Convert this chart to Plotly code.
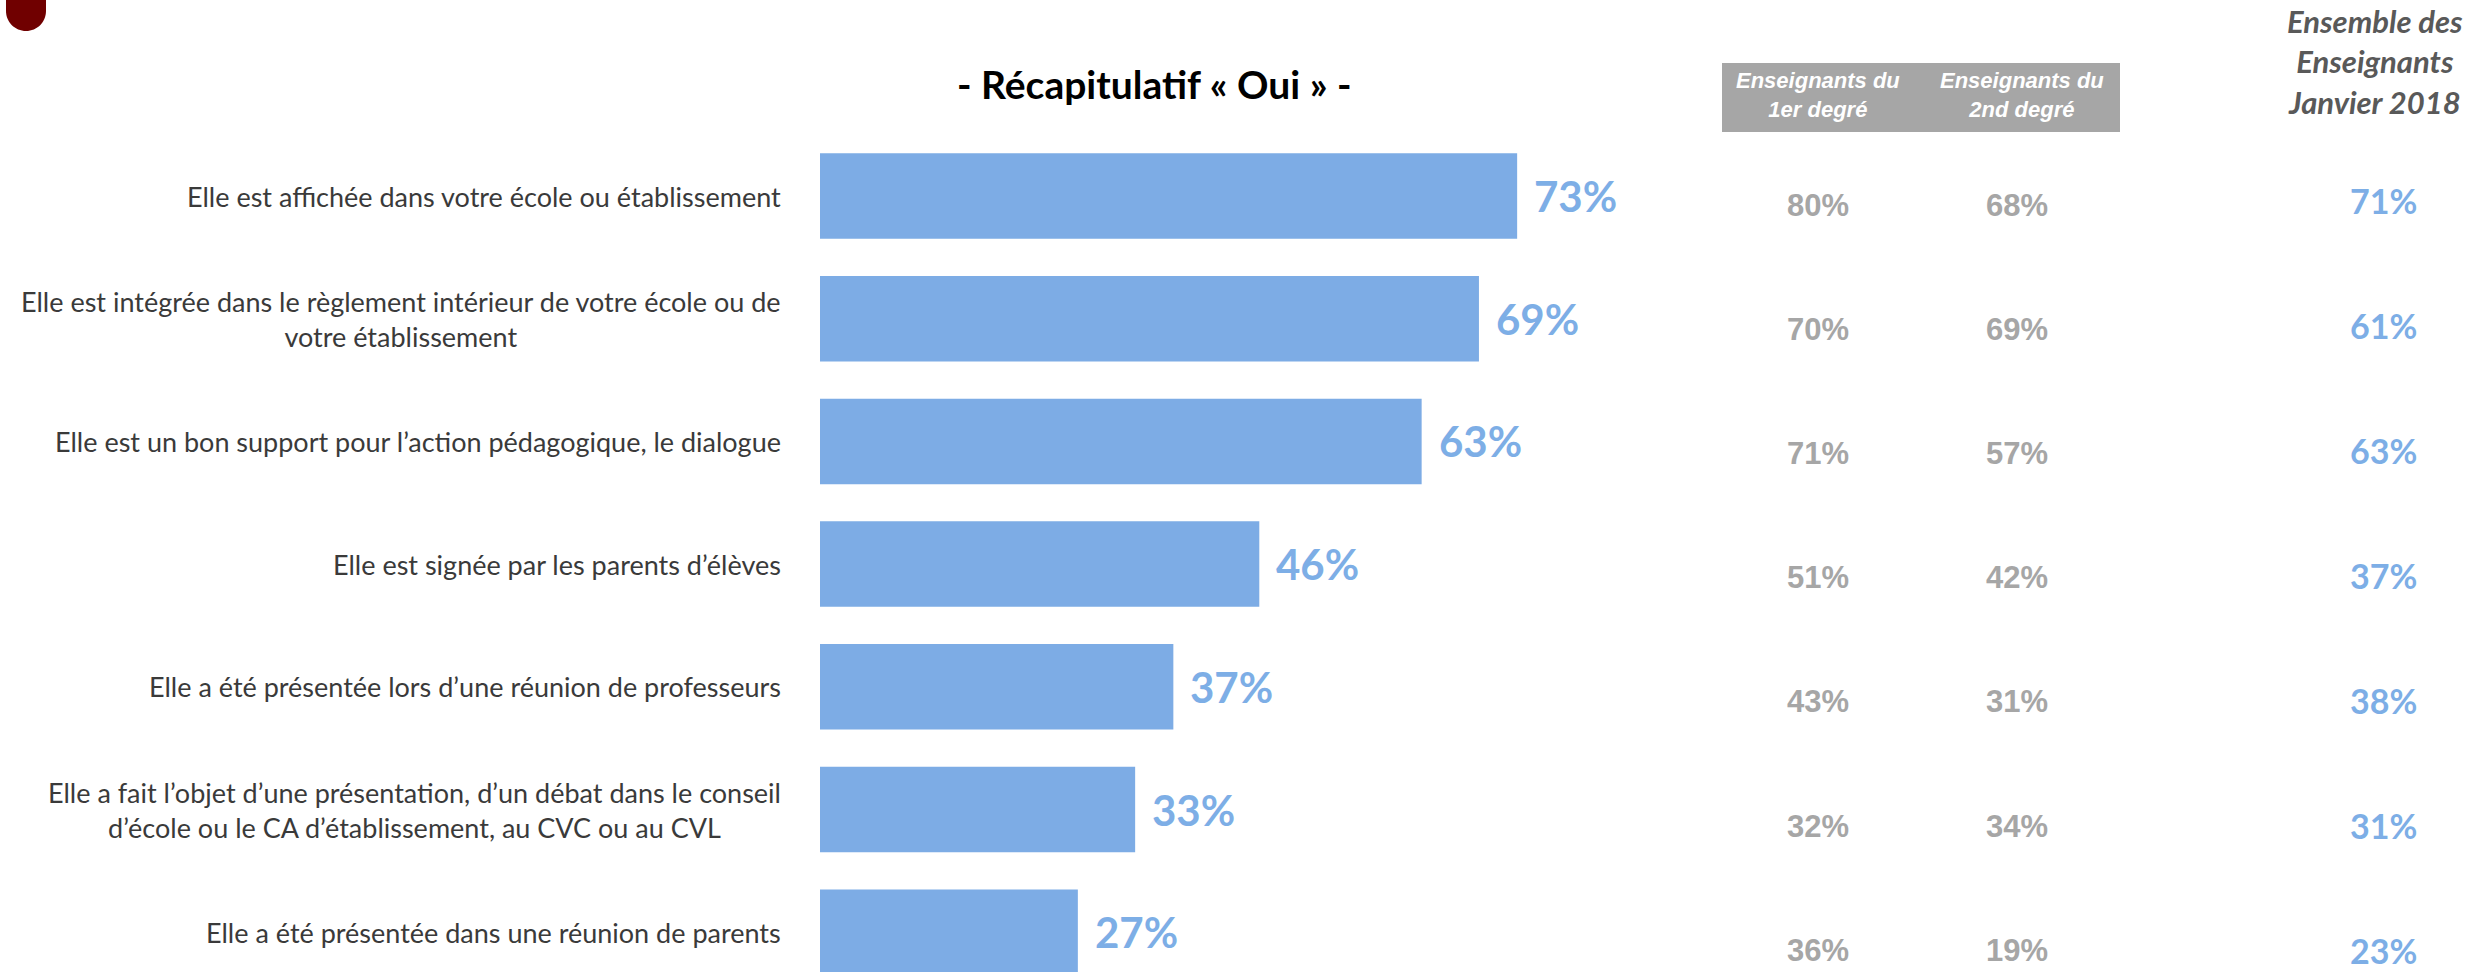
import plotly.graph_objects as go

# ---------------- data ----------------
categories = [
    "Elle est affichée dans votre école ou établissement",
    "Elle est intégrée dans le règlement intérieur de votre école ou de<br>votre établissement",
    "Elle est un bon support pour l’action pédagogique, le dialogue",
    "Elle est signée par les parents d’élèves",
    "Elle a été présentée lors d’une réunion de professeurs",
    "Elle a fait l’objet d’une présentation, d’un débat dans le conseil<br>d’école ou le CA d’établissement, au CVC ou au CVL",
    "Elle a été présentée dans une réunion de parents",
]
total_oui = [73, 69, 63, 46, 37, 33, 27]
premier_degre = [80, 70, 71, 51, 43, 32, 36]
second_degre = [68, 69, 57, 42, 31, 34, 19]
janvier_2018 = [71, 61, 63, 37, 38, 31, 23]

col_headers = ["Enseignants du<br>1er degré", "Enseignants du<br>2nd degré"]
ensemble_header = "Ensemble des<br>Enseignants<br>Janvier 2018"
chart_title = "- Récapitulatif « Oui » -"

# ---------------- layout constants ----------------
W, H = 2469, 972
BAR_COLOR = "#7DACE5"
BLUE_TXT = "#7DAEE6"
GRAY_TXT = "#A6A6A6"
LABEL_TXT = "#3A3A3A"


def px(x):
    return x / W


def py(y):
    return 1 - y / H


rows = list(range(len(categories)))

fig = go.Figure()
fig.add_trace(go.Bar(
    x=total_oui, y=rows, orientation="h",
    marker=dict(color=BAR_COLOR, line=dict(width=0)),
    width=0.697, hoverinfo="skip", showlegend=False,
))

annotations = []
# category labels
for i, c in enumerate(categories):
    annotations.append(dict(
        x=0, y=i, xref="x", yref="y", text=c, showarrow=False,
        xanchor="right", yanchor="middle", align="center", xshift=-37,
        font=dict(family="Lato", size=27, color=LABEL_TXT),
    ))
# value labels
for i, v in enumerate(total_oui):
    annotations.append(dict(
        x=v, y=i, xref="x", yref="y", text=f"{v}%", showarrow=False,
        xanchor="left", yanchor="middle", xshift=15,
        font=dict(family="Lato", size=42, color=BLUE_TXT, weight="bold"),
    ))
# gray columns
for i, (a, b) in enumerate(zip(premier_degre, second_degre)):
    for xv, val in ((1818, a), (2017, b)):
        annotations.append(dict(
            x=px(xv), y=i, xref="paper", yref="y2", text=f"{val}%", showarrow=False,
            xanchor="center", yanchor="middle",
            font=dict(family="Liberation Sans", size=31, color=GRAY_TXT, weight="bold"),
        ))
# blue column (Janvier 2018)
for i, val in enumerate(janvier_2018):
    annotations.append(dict(
        x=px(2383), y=i, xref="paper", yref="y3", text=f"{val}%", showarrow=False,
        xanchor="center", yanchor="middle",
        font=dict(family="Lato", size=34, color=BLUE_TXT, weight="bold"),
    ))
# headers
for xv, t in zip((1818, 2022), col_headers):
    annotations.append(dict(
        x=px(xv), y=py(95), xref="paper", yref="paper", text=t, showarrow=False,
        xanchor="center", yanchor="middle", align="center",
        font=dict(family="Liberation Sans", size=22, color="white", weight="bold", style="italic"),
    ))
annotations.append(dict(
    x=px(2375), y=py(62), xref="paper", yref="paper", text=ensemble_header, showarrow=False,
    xanchor="center", yanchor="middle", align="center",
    font=dict(family="Lato", size=31, color="#595959", weight="bold", style="italic"),
))
annotations.append(dict(
    x=px(1154), y=py(84), xref="paper", yref="paper", text=chart_title, showarrow=False,
    xanchor="center", yanchor="middle",
    font=dict(family="Lato", size=39, color="black", weight="bold"),
))

shapes = [
    # gray header box
    dict(type="rect", xref="paper", yref="paper",
         x0=px(1722), x1=px(2120), y0=py(132), y1=py(63),
         fillcolor="#A6A6A6", line=dict(width=0), layer="below"),
]
# red rounded tab top-left
pts = [("M", (6, -5)), ("L", (6, 11)), ("C", (6, 22.05), (14.95, 31), (26, 31)),
       ("C", (37.05, 31), (46, 22.05), (46, 11)), ("L", (46, -5))]
path = ""
for seg in pts:
    cmd, coords = seg[0], seg[1:]
    path += cmd + " " + " ".join(f"{px(x):.6f},{py(y):.6f}" for x, y in coords) + " "
path += "Z"
shapes.append(dict(type="path", xref="paper", yref="paper", path=path,
                   fillcolor="#700000", line=dict(width=0)))

x_scale = 9.55
x0_px = 820
fig.update_layout(
    width=W, height=H,
    margin=dict(l=0, r=0, t=0, b=0, pad=0),
    paper_bgcolor="white", plot_bgcolor="white",
    xaxis=dict(range=[-x0_px / x_scale, (W - x0_px) / x_scale], visible=False, fixedrange=True),
    yaxis=dict(range=[(H - 196) / 122.7, -196 / 122.7], visible=False, fixedrange=True),
    yaxis2=dict(range=[(H - 205) / 124.2, -205 / 124.2], visible=False, overlaying="y", fixedrange=True),
    yaxis3=dict(range=[(H - 200) / 125.0, -200 / 125.0], visible=False, overlaying="y", fixedrange=True),
    annotations=annotations,
    shapes=shapes,
    showlegend=False,
)

fig.write_html(
    "out.html",
    config={"displayModeBar": False},
    post_script="document.body.style.margin='0';document.body.style.overflow='hidden';",
)
